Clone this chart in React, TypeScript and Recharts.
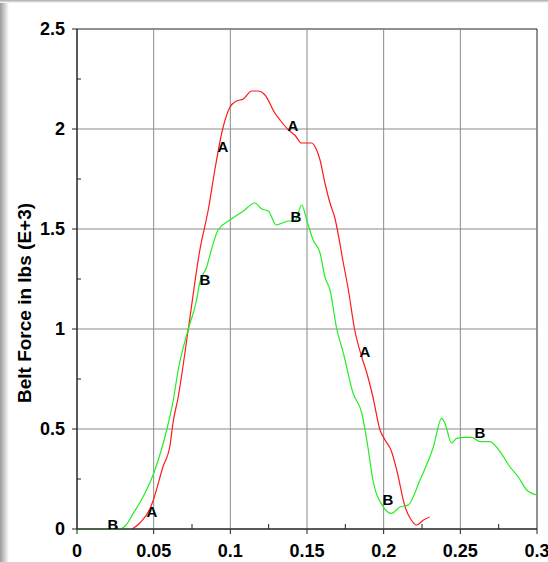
import React from "react";
import {
  ComposedChart,
  Line,
  Scatter,
  XAxis,
  YAxis,
  ReferenceLine,
  ReferenceArea,
  Label,
} from "recharts";

// curve A (red)
const aX = [
  0.036, 0.041, 0.0475, 0.05, 0.056, 0.0607, 0.0626, 0.066, 0.0726, 0.08,
  0.0857, 0.09, 0.095, 0.0998, 0.104, 0.1085, 0.1139, 0.118, 0.1226, 0.129,
  0.1324, 0.138, 0.142, 0.1465, 0.153, 0.156, 0.1585, 0.1617, 0.165, 0.168,
  0.1737, 0.177, 0.181, 0.1857, 0.189, 0.193, 0.1976, 0.2009, 0.205, 0.2085,
  0.214, 0.218, 0.2215, 0.226, 0.23,
];
const aY = [
  0, 0.03, 0.1, 0.15, 0.31, 0.42, 0.53, 0.66, 1.0, 1.39,
  1.6, 1.8, 2.0, 2.11, 2.14, 2.15, 2.19, 2.19, 2.17, 2.08,
  2.045, 1.995, 1.97, 1.93, 1.93, 1.9, 1.845, 1.73, 1.63, 1.56,
  1.33, 1.195, 1.0, 0.86, 0.78, 0.66, 0.495, 0.445, 0.39, 0.295,
  0.11, 0.045, 0.02, 0.045, 0.06,
];

// curve B (green)
const bX = [
  0, 0.028, 0.032, 0.0367, 0.043, 0.0496, 0.0552, 0.0585, 0.0628, 0.066,
  0.0726, 0.078, 0.08, 0.0846, 0.0878, 0.092, 0.0998, 0.1085, 0.116, 0.1205,
  0.1248, 0.13, 0.134, 0.138, 0.142, 0.1466, 0.1498, 0.154, 0.1585, 0.1617,
  0.165, 0.1694, 0.1737, 0.18, 0.1857, 0.189, 0.193, 0.1998, 0.205, 0.2107,
  0.216, 0.2237, 0.2324, 0.2378, 0.24, 0.2443, 0.2476, 0.252, 0.2574, 0.2628,
  0.2693, 0.2759, 0.2824, 0.2878, 0.2933, 0.2998,
];
const bY = [
  0, 0, 0.02, 0.078, 0.16, 0.27, 0.4, 0.495, 0.645, 0.795,
  1.0, 1.145, 1.23, 1.31, 1.4, 1.495, 1.545, 1.59, 1.63, 1.6,
  1.59, 1.52, 1.53, 1.54, 1.54, 1.62, 1.545, 1.445, 1.38, 1.26,
  1.195, 1.0, 0.88, 0.68, 0.58, 0.445, 0.245, 0.11, 0.078, 0.11,
  0.12, 0.245, 0.41, 0.553, 0.528, 0.43, 0.453, 0.458, 0.458, 0.437,
  0.437, 0.387, 0.31, 0.26, 0.195, 0.17,
];

// curve markers
const markText = ["B", "A", "A", "A", "B", "B", "A", "B", "B"];
const markX = [0.0235, 0.0489, 0.0952, 0.1409, 0.0835, 0.1428, 0.1878, 0.2028, 0.2628];
const markY = [0.02, 0.085, 1.91, 2.015, 1.245, 1.56, 0.885, 0.145, 0.48];

const xMajor = [0, 0.05, 0.1, 0.15, 0.2, 0.25, 0.3];
const xMinor = [0.025, 0.075, 0.125, 0.175, 0.225, 0.275];
const yMajor = [0, 0.5, 1, 1.5, 2, 2.5];
const yMinor = [0.25, 0.75, 1.25, 1.75, 2.25];

const dataA = aX.map((x, i) => ({ x, y: aY[i] }));
const dataB = bX.map((x, i) => ({ x, y: bY[i] }));
const marks = markX.map((x, i) => ({ x, y: markY[i], t: markText[i] }));

const FONT = "'Liberation Sans', Arial, sans-serif";
const TICK = 5;
const X_MARGIN = 10;
const Y_MARGIN = 7;
const AXIS = "#222";
const GRID = "#8a8a8a";

const isMajor = (v: number, list: number[]) => list.some((m) => Math.abs(m - v) < 1e-9);

const XTick = ({ x, y, payload }: any) => {
  const axisY = y - TICK - X_MARGIN;
  if (!isMajor(payload.value, xMajor)) {
    return <line x1={x} x2={x} y1={axisY} y2={axisY - 5} stroke={AXIS} />;
  }
  return (
    <g>
      <line x1={x} x2={x} y1={axisY} y2={axisY + TICK} stroke={AXIS} />
      <text x={x} y={axisY + 28} textAnchor="middle" fontFamily={FONT} fontWeight="bold" fontSize={18} fill="#000">
        {String(payload.value)}
      </text>
    </g>
  );
};

const YTick = ({ x, y, payload }: any) => {
  const axisX = x + TICK + Y_MARGIN;
  if (!isMajor(payload.value, yMajor)) {
    return <line x1={axisX} x2={axisX + 4} y1={y} y2={y} stroke={AXIS} />;
  }
  return (
    <g>
      <line x1={axisX - TICK} x2={axisX} y1={y} y2={y} stroke={AXIS} />
      <text x={axisX - TICK - Y_MARGIN} y={y + 6} textAnchor="end" fontFamily={FONT} fontWeight="bold" fontSize={18} fill="#000">
        {String(payload.value)}
      </text>
    </g>
  );
};

const YTitle = ({ viewBox }: any) => {
  const cx = viewBox.x + 31;
  const cy = viewBox.y + viewBox.height / 2 + 24;
  return (
    <text x={cx} y={cy} transform={`rotate(-90 ${cx} ${cy})`} textAnchor="middle" fontFamily={FONT} fontWeight="bold" fontSize={19} fill="#000">
      Belt Force in lbs (E+3)
    </text>
  );
};

const MarkText = (p: any) => (
  <text x={p.cx} y={p.cy + 5} textAnchor="middle" fontFamily={FONT} fontWeight="bold" fontSize={15} fill="#000">
    {p.payload.t}
  </text>
);

export default function App() {
  return (
    <div style={{ position: "absolute", left: 0, top: 0, width: 548, height: 562, background: "#fff", overflow: "hidden" }}>
      {/* window shadow along the left and top edges */}
      <div style={{ position: "absolute", left: 0, top: 0, width: 9, height: 562, background: "linear-gradient(to right, #9c9c9c, #ffffff)" }} />
      <div style={{ position: "absolute", left: 0, top: 0, width: 548, height: 3, background: "linear-gradient(to bottom, #a8a8a8, #ffffff)" }} />
      <div style={{ position: "absolute", left: 0, top: 0 }}>
        <ComposedChart width={548} height={562} margin={{ top: 29, right: 11, bottom: 0, left: 0 }}>
          <XAxis
            type="number"
            dataKey="x"
            domain={[0, 0.3]}
            ticks={[...xMajor, ...xMinor].sort((a, b) => a - b)}
            interval={0}
            height={33}
            tickSize={TICK}
            tickMargin={X_MARGIN}
            tickLine={false}
            tick={<XTick />}
            axisLine={{ stroke: AXIS }}
            allowDataOverflow
          />
          <YAxis
            type="number"
            dataKey="y"
            domain={[0, 2.5]}
            ticks={[...yMajor, ...yMinor].sort((a, b) => a - b)}
            interval={0}
            width={77}
            tickSize={TICK}
            tickMargin={Y_MARGIN}
            tickLine={false}
            tick={<YTick />}
            axisLine={{ stroke: AXIS }}
            allowDataOverflow
          >
            <Label content={<YTitle />} />
          </YAxis>
          {xMajor.slice(1, -1).map((v) => (
            <ReferenceLine key={"gx" + v} x={v} stroke={GRID} strokeWidth={1} />
          ))}
          {yMajor.slice(1, -1).map((v) => (
            <ReferenceLine key={"gy" + v} y={v} stroke={GRID} strokeWidth={1} />
          ))}
          <ReferenceArea x1={0} x2={0.3} y1={0} y2={2.5} fill="none" stroke={AXIS} strokeWidth={1} />
          <Line data={dataA} dataKey="y" type="monotone" stroke="#ff1a1a" strokeWidth={1.2} dot={false} isAnimationActive={false} />
          <Line data={dataB} dataKey="y" type="monotone" stroke="#22ee22" strokeWidth={1.2} dot={false} isAnimationActive={false} />
          <Scatter data={marks} dataKey="y" shape={<MarkText />} isAnimationActive={false} />
        </ComposedChart>
      </div>
    </div>
  );
}
